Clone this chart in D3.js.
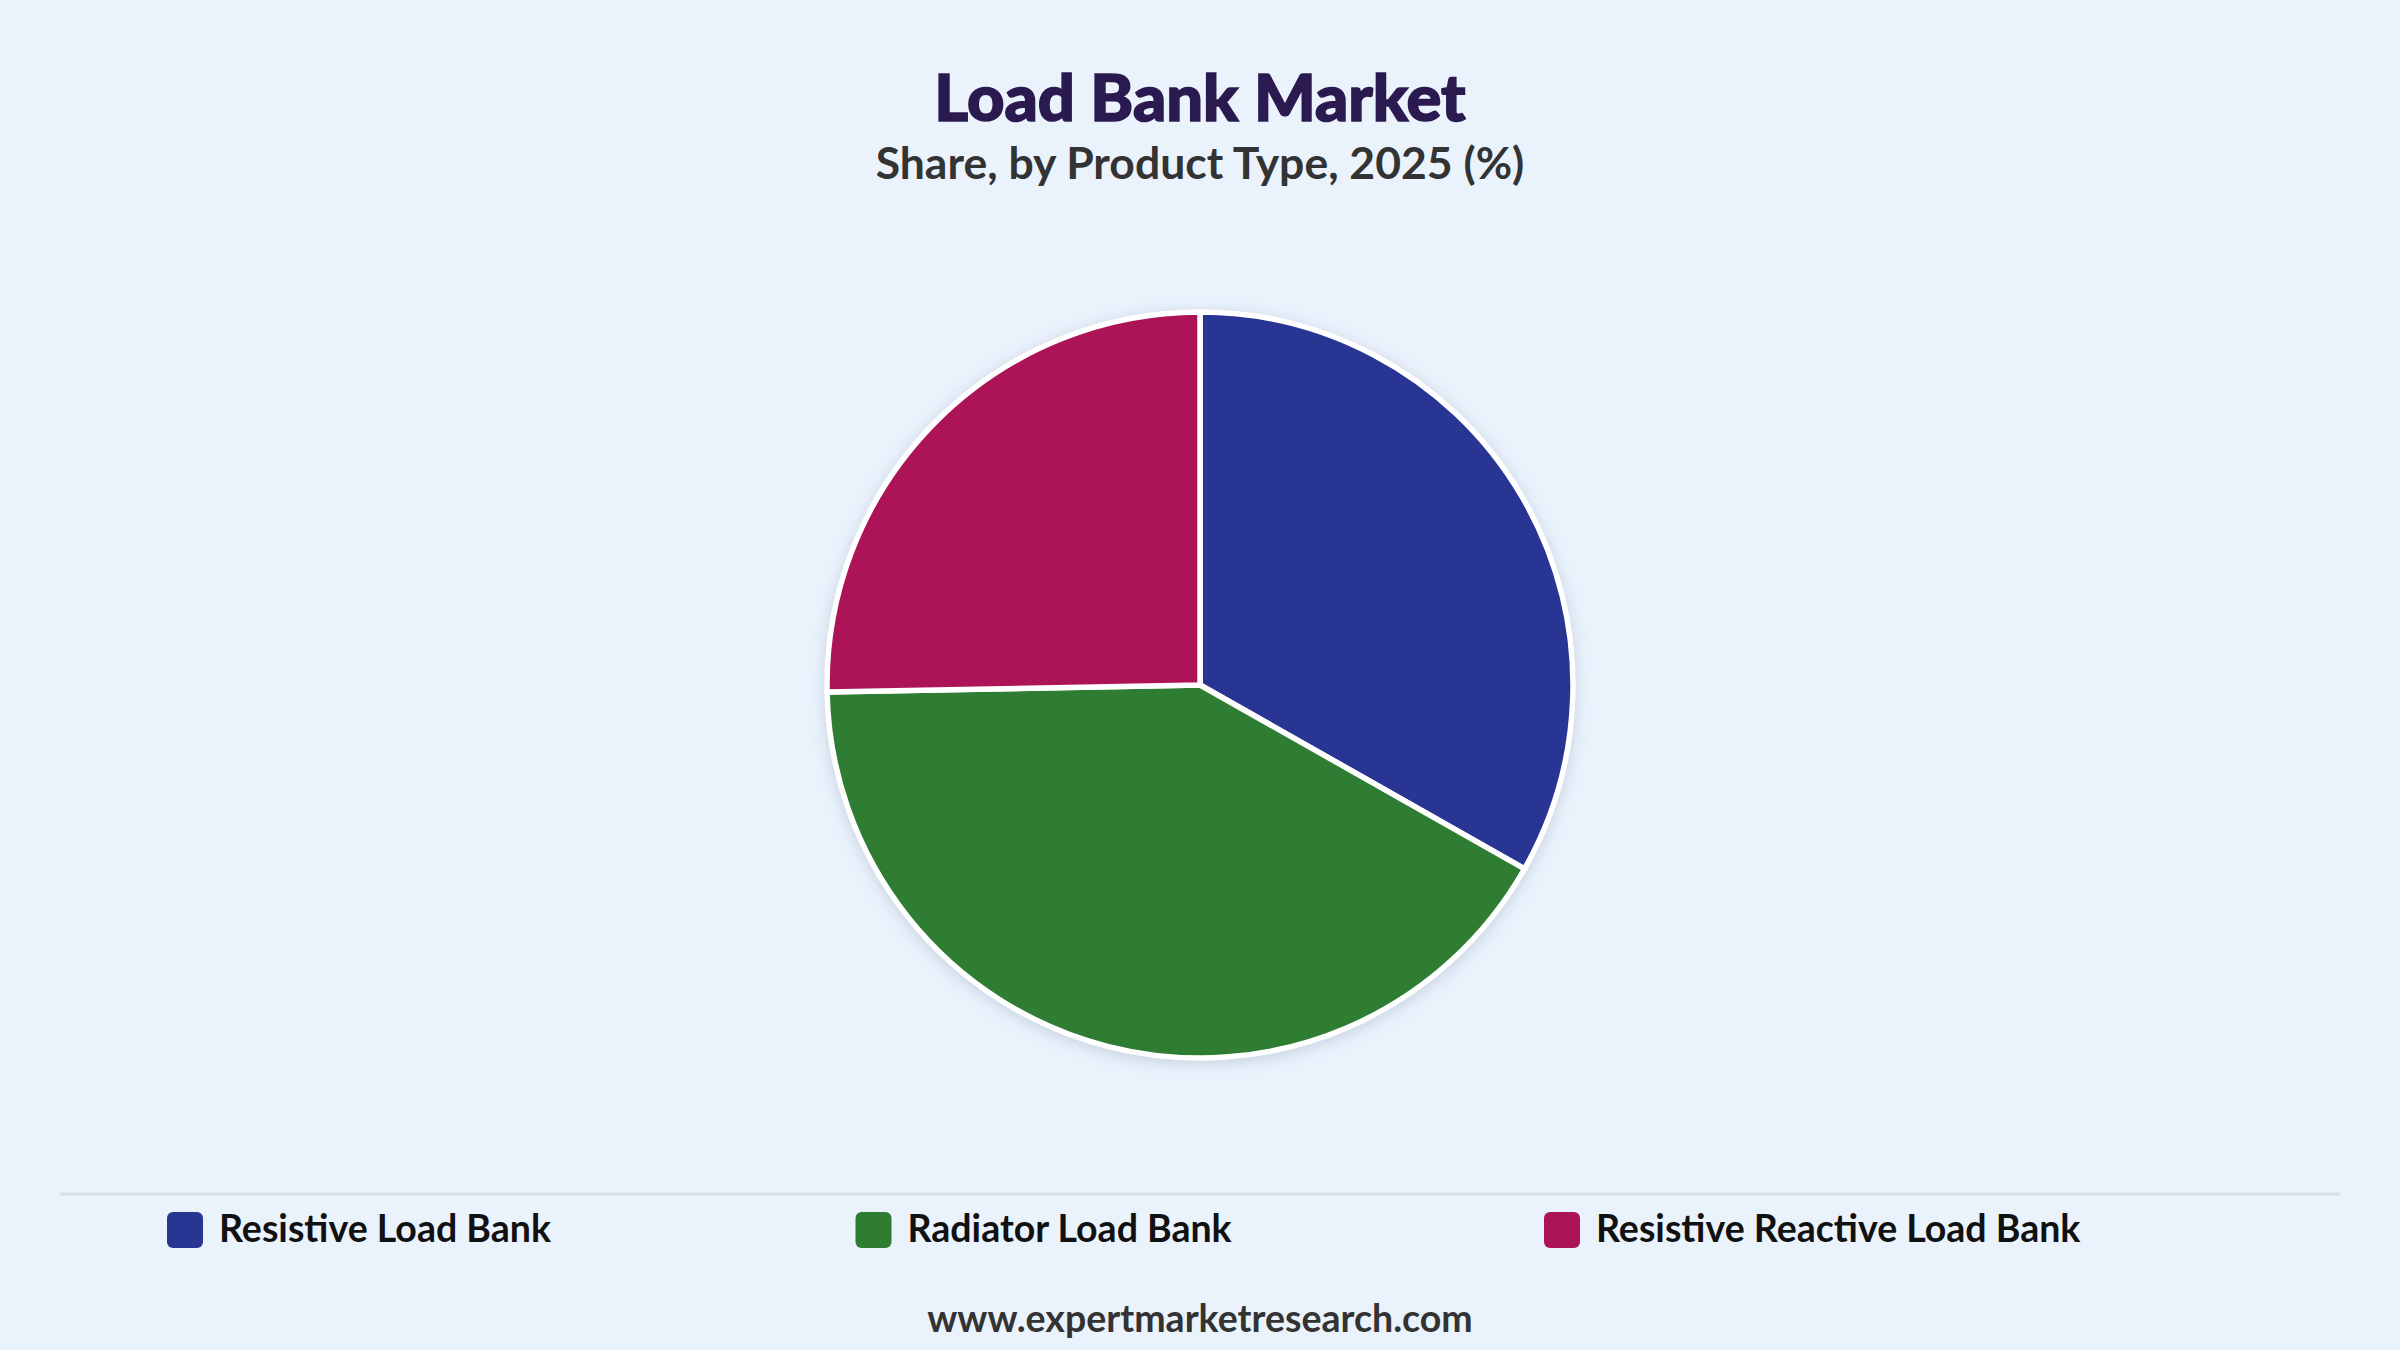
<!DOCTYPE html>
<html>
<head>
<meta charset="utf-8">
<script src="https://cdn.jsdelivr.net/npm/d3@7"></script>
<style>
  html, body { margin: 0; padding: 0; background: #eaf2fc; }
  svg { display: block; font-family: Lato, "Noto Sans", sans-serif; }
</style>
</head>
<body>
<svg id="chart" width="2400" height="1350"></svg>
<script>
const categories = ["Resistive Load Bank", "Radiator Load Bank", "Resistive Reactive Load Bank"];
const shares = [33.2, 41.5, 25.3];
const colors = ["#283593", "#2e7d32", "#ad1457"];

const title = "Load Bank Market";
const subtitle = "Share, by Product Type, 2025 (%)";
const source = "www.expertmarketresearch.com";

const W = 2400, H = 1350;
const svg = d3.select("#chart");

svg.append("rect")
  .attr("width", W)
  .attr("height", H)
  .attr("fill", "#eaf2fc");

const defs = svg.append("defs");
const shadow = defs.append("filter")
  .attr("id", "pie-shadow")
  .attr("x", "-20%").attr("y", "-20%")
  .attr("width", "140%").attr("height", "140%");
shadow.append("feDropShadow")
  .attr("dx", 0)
  .attr("dy", 3)
  .attr("stdDeviation", 8)
  .attr("flood-color", "#6b7a99")
  .attr("flood-opacity", 0.3);

// titles
svg.append("text")
  .attr("x", W / 2)
  .attr("y", 121)
  .attr("text-anchor", "middle")
  .attr("font-size", 65)
  .attr("font-weight", 900)
  .attr("fill", "#2b1a4f")
  .attr("stroke", "#2b1a4f")
  .attr("stroke-width", 1.6)
  .text(title);

svg.append("text")
  .attr("x", W / 2)
  .attr("y", 179)
  .attr("text-anchor", "middle")
  .attr("font-size", 44.5)
  .attr("font-weight", 700)
  .attr("fill", "#333333")
  .text(subtitle);

// ---------- Pie ----------
const cx = 1200, cy = 685, radius = 373;

const data = categories.map((c, i) => ({ name: c, value: shares[i], color: colors[i] }));

const pie = d3.pie()
  .sort(null)
  .value(d => d.value);

const arc = d3.arc()
  .innerRadius(0)
  .outerRadius(radius);

const g = svg.append("g")
  .attr("transform", `translate(${cx},${cy})`);

g.append("circle")
  .attr("r", radius + 2)
  .attr("fill", "#ffffff")
  .attr("filter", "url(#pie-shadow)");

g.selectAll("path")
  .data(pie(data))
  .join("path")
  .attr("d", arc)
  .attr("fill", d => d.data.color)
  .attr("stroke", "#ffffff")
  .attr("stroke-width", 5.5)
  .attr("stroke-linejoin", "round");

// ---------- Legend ----------
svg.append("line")
  .attr("x1", 60)
  .attr("x2", 2340)
  .attr("y1", 1194)
  .attr("y2", 1194)
  .attr("stroke", "#dcdfe4")
  .attr("stroke-width", 3);

const legendX = d3.scalePoint()
  .domain(categories)
  .range([167, 1544]);

const item = svg.append("g")
  .selectAll("g")
  .data(data)
  .join("g")
  .attr("transform", d => `translate(${legendX(d.name)},1212)`);

item.append("rect")
  .attr("width", 36)
  .attr("height", 36)
  .attr("rx", 6)
  .attr("fill", d => d.color);

item.append("text")
  .attr("x", 52)
  .attr("y", 30)
  .attr("font-size", 37.5)
  .attr("font-weight", 700)
  .attr("fill", "#111111")
  .text(d => d.name);

// source
svg.append("text")
  .attr("x", W / 2)
  .attr("y", 1332)
  .attr("text-anchor", "middle")
  .attr("font-size", 37.5)
  .attr("font-weight", 700)
  .attr("fill", "#333333")
  .text(source);
</script>
</body>
</html>
